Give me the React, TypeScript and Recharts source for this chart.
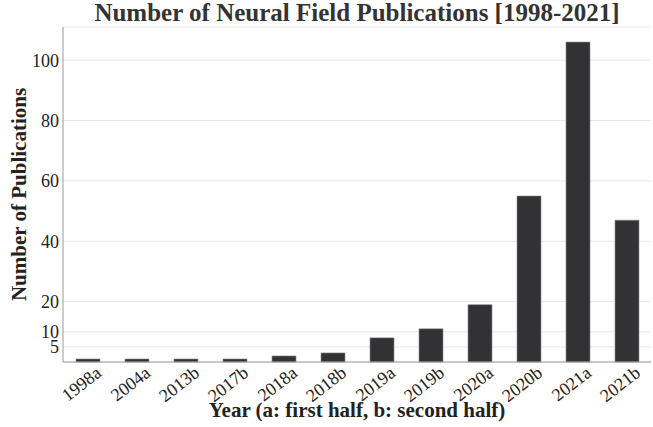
import { BarChart, Bar, XAxis, YAxis, CartesianGrid } from 'recharts'

const categories = ['1998a', '2004a', '2013b', '2017b', '2018a', '2018b', '2019a', '2019b', '2020a', '2020b', '2021a', '2021b']
const publications = [1, 1, 1, 1, 2, 3, 8, 11, 19, 55, 106, 47]
const yTicks = [5, 10, 20, 40, 60, 80, 100]

const C = { bar: '#323235', edge: '#8a8a8a', grid: '#e6e6e6', frame: '#9a9a9a', text: '#222' }
const FONT = '"Liberation Serif", "DejaVu Serif", serif'

const XTick = (props: any) => {
  const { x, y, payload } = props
  const ax = x + 15
  const ay = y + 5
  return (
    <g transform={`translate(${ax},${ay}) rotate(-38)`}>
      <text x={0} y={0} textAnchor="end" fontSize={18} fontFamily={FONT} fill={C.text}>{payload.value}</text>
    </g>
  )
}

export default function App() {
  const rows = categories.map((year, i) => ({ year, count: publications[i] }))
  return (
    <div style={{ position: 'absolute', left: 0, top: 0, width: 653, height: 427, background: '#fff', fontFamily: FONT }}>
      <div style={{ position: 'absolute', left: 63, width: 588, top: 0, lineHeight: '25px', textAlign: 'center', fontSize: 25, fontWeight: 700, color: '#333', whiteSpace: 'nowrap' }}>
        Number of Neural Field Publications [1998-2021]
      </div>
      <BarChart width={653} height={427} data={rows} margin={{ top: 27, right: 2, left: 0, bottom: 0 }}
        barCategoryGap={0} barSize={24}>
        <CartesianGrid vertical={false} stroke={C.grid} />
        <XAxis dataKey="year" height={65} tick={<XTick />} tickLine={false} interval={0}
          axisLine={{ stroke: C.frame }} />
        <XAxis xAxisId="top" orientation="top" dataKey="year" height={0} tick={false} tickLine={false}
          axisLine={{ stroke: C.frame }} />
        <YAxis type="number" domain={[0, 111]} ticks={yTicks} width={63} interval={0} tickLine={false} tickSize={2}
          axisLine={{ stroke: C.frame }} tick={{ fontSize: 18, fill: C.text, fontFamily: FONT }}
          label={{ value: 'Number of Publications', angle: -90, position: 'insideLeft', offset: 19,
            style: { textAnchor: 'middle', fontSize: 21, fontWeight: 700, fill: C.text, fontFamily: FONT } }} />
        <YAxis yAxisId="right" orientation="right" width={0} domain={[0, 111]} tick={false} tickLine={false}
          axisLine={{ stroke: C.frame }} />
        <Bar dataKey="count" fill={C.bar} stroke={C.edge} strokeWidth={0.6} isAnimationActive={false} />
      </BarChart>
      <div style={{ position: 'absolute', left: 63, width: 588, top: 398, textAlign: 'center', fontSize: 21, fontWeight: 700, color: C.text }}>
        Year (a: first half, b: second half)
      </div>
    </div>
  )
}
